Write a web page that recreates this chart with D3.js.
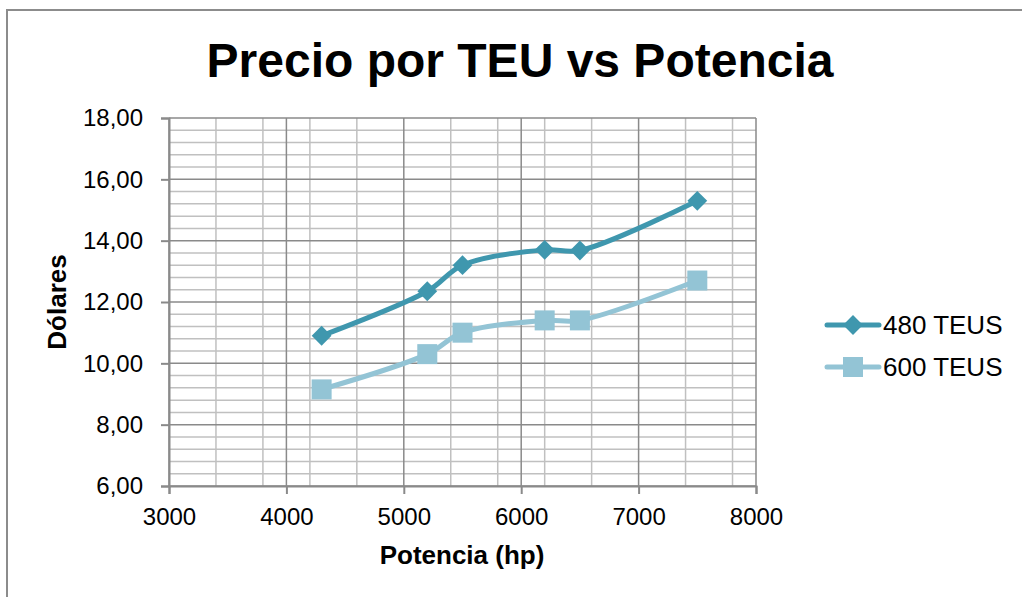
<!DOCTYPE html>
<html>
<head>
<meta charset="utf-8">
<script src="https://cdn.jsdelivr.net/npm/d3@7"></script>
<style>
  body { margin: 0; background: #fff; }
  text { font-family: "Liberation Sans", Arial, sans-serif; fill: #000; }
</style>
</head>
<body>
<div id="chart"></div>
<script>
// data
const potencia = [4300, 5200, 5500, 6200, 6500, 7500];
const teus480 = [10.9, 12.35, 13.2, 13.7, 13.68, 15.3];
const teus600 = [9.15, 10.3, 11.0, 11.4, 11.4, 12.7];
const seriesNames = ['480 TEUS', '600 TEUS'];
const yTicks = [6, 8, 10, 12, 14, 16, 18];
const xTicks = [3000, 4000, 5000, 6000, 7000, 8000];

const width = 1022, height = 597;
const plot = { left: 169, top: 118, right: 756, bottom: 486 };

const svg = d3.select('#chart')
              .append('svg')
              .attr('width', width)
              .attr('height', height);

// chart border (only left and top visible in the shot)
svg.append('rect')
   .attr('x', 7).attr('y', 10)
   .attr('width', 1040).attr('height', 620)
   .attr('fill', 'none')
   .attr('stroke', '#8c8c8c')
   .attr('stroke-width', 2);

const x = d3.scaleLinear().domain([3000, 8000]).range([plot.left, plot.right]);
const y = d3.scaleLinear().domain([6, 18]).range([plot.bottom, plot.top]);

// minor grid
const grid = svg.append('g');
grid.selectAll('.vminor')
    .data(d3.range(3000, 8001, 400).filter(v => v % 1000 !== 0))
    .enter().append('line')
    .attr('x1', d => x(d)).attr('x2', d => x(d))
    .attr('y1', plot.top).attr('y2', plot.bottom)
    .attr('stroke', '#c0c0c0').attr('stroke-width', 1.5);
grid.selectAll('.hminor')
    .data(d3.range(0, 31).map(i => 6 + i * 0.4).filter(v => Math.abs(v / 2 - Math.round(v / 2)) > 0.01))
    .enter().append('line')
    .attr('x1', plot.left).attr('x2', plot.right)
    .attr('y1', d => y(d)).attr('y2', d => y(d))
    .attr('stroke', '#c0c0c0').attr('stroke-width', 1.5);
// major grid
grid.selectAll('.vmajor')
    .data(xTicks)
    .enter().append('line')
    .attr('x1', d => x(d)).attr('x2', d => x(d))
    .attr('y1', plot.top).attr('y2', plot.bottom)
    .attr('stroke', '#8a8a8a').attr('stroke-width', 1.5);
grid.selectAll('.hmajor')
    .data(yTicks)
    .enter().append('line')
    .attr('x1', plot.left).attr('x2', plot.right)
    .attr('y1', d => y(d)).attr('y2', d => y(d))
    .attr('stroke', '#8a8a8a').attr('stroke-width', 1.5);

// axes
const yAxis = svg.append('g')
                 .attr('transform', `translate(${plot.left},0)`)
                 .call(d3.axisLeft(y).tickValues(yTicks).tickSize(8).tickPadding(18)
                         .tickFormat(d => d3.format('.2f')(d).replace('.', ',')));
const xAxis = svg.append('g')
                 .attr('transform', `translate(0,${plot.bottom})`)
                 .call(d3.axisBottom(x).tickValues(xTicks).tickSize(8).tickPadding(14)
                         .tickFormat(d3.format('d')));
[xAxis, yAxis].forEach(a => {
  a.attr('font-size', 24).attr('font-family', '"Liberation Sans", Arial, sans-serif');
  a.select('.domain').attr('stroke', '#8a8a8a').attr('stroke-width', 2);
  a.selectAll('.tick line').attr('stroke', '#8a8a8a').attr('stroke-width', 2);
  a.selectAll('.tick text').attr('fill', '#000');
});

// series
const colors = ['#3f97ae', '#93c4d5'];
const line = d3.line()
               .x(d => x(d[0]))
               .y(d => y(d[1]))
               .curve(d3.curveCatmullRom.alpha(0.5));
const series = [teus480, teus600].map(vals => potencia.map((p, i) => [p, vals[i]]));

series.forEach((pts, s) => {
  svg.append('path')
     .datum(pts)
     .attr('d', line)
     .attr('fill', 'none')
     .attr('stroke', colors[s])
     .attr('stroke-width', 5)
     .attr('stroke-linejoin', 'round');
});

function marker(g, s, cx, cy) {
  if (s === 0) {
    g.append('rect')
     .attr('x', cx - 7).attr('y', cy - 7)
     .attr('width', 14).attr('height', 14)
     .attr('transform', `rotate(45,${cx},${cy})`)
     .attr('fill', colors[s]);
  } else {
    g.append('rect')
     .attr('x', cx - 10).attr('y', cy - 10)
     .attr('width', 20).attr('height', 20)
     .attr('fill', colors[s]);
  }
}

series.forEach((pts, s) => {
  const g = svg.append('g');
  pts.forEach(d => marker(g, s, x(d[0]), y(d[1])));
});

// legend
const legend = svg.append('g');
seriesNames.forEach((name, s) => {
  const ly = 325 + s * 42;
  legend.append('line')
        .attr('x1', 827).attr('x2', 879)
        .attr('y1', ly).attr('y2', ly)
        .attr('stroke', colors[s])
        .attr('stroke-width', 5)
        .attr('stroke-linecap', 'round');
  marker(legend, s, 853, ly);
  legend.append('text')
        .attr('x', 883).attr('y', ly)
        .attr('dy', '0.35em')
        .attr('font-size', 26)
        .text(name);
});

// title and axis titles
svg.append('text')
   .attr('x', 520).attr('y', 77)
   .attr('text-anchor', 'middle')
   .attr('font-size', 48)
   .attr('font-weight', 'bold')
   .text('Precio por TEU vs Potencia');

svg.append('text')
   .attr('x', 462).attr('y', 564)
   .attr('text-anchor', 'middle')
   .attr('font-size', 26)
   .attr('font-weight', 'bold')
   .text('Potencia (hp)');

svg.append('text')
   .attr('transform', 'translate(66,302) rotate(-90)')
   .attr('text-anchor', 'middle')
   .attr('font-size', 26)
   .attr('font-weight', 'bold')
   .text('Dólares');
</script>
</body>
</html>
